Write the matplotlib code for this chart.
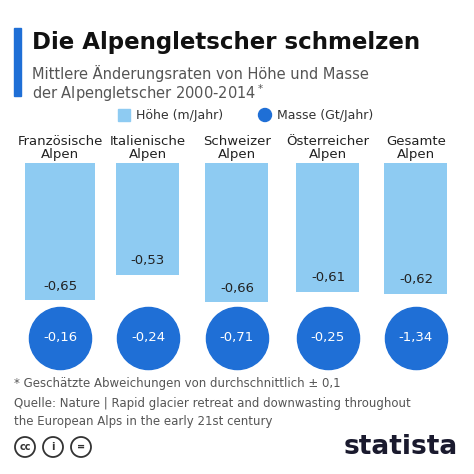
import matplotlib.pyplot as plt
from matplotlib.patches import Rectangle, Circle

regions = ["Französische\nAlpen", "Italienische\nAlpen", "Schweizer\nAlpen", "Österreicher\nAlpen", "Gesamte\nAlpen"]
hoehe = [-0.65, -0.53, -0.66, -0.61, -0.62]
masse = [-0.16, -0.24, -0.71, -0.25, -1.34]

LIGHT = "#8ecbf2"
DARK = "#1f6fd6"
GRAY = "#555555"

fig = plt.figure(figsize=(4.74, 4.74), dpi=100)
W = H = 474.0

# overlay in pixel coordinates for texts
bg = fig.add_axes([0, 0, 1, 1])
bg.set_xlim(0, W)
bg.set_ylim(H, 0)
bg.axis("off")

bg.add_patch(Rectangle((14, 28), 7, 68, color=DARK))
bg.text(32, 42, "Die Alpengletscher schmelzen", fontsize=16.5, fontweight="bold", va="center", color="#111111")
bg.text(32, 73, "Mittlere Änderungsraten von Höhe und Masse", fontsize=10.5, va="center", color=GRAY)
bg.text(32, 93, "der Alpengletscher 2000-2014$^*$", fontsize=10.5, va="center", color=GRAY)

bg.add_patch(Rectangle((118, 109), 12, 12, color=LIGHT))
bg.text(136, 115, "Höhe (m/Jahr)", fontsize=9, va="center", color="#333333")
bg.add_patch(Circle((265, 115), 6.5, color=DARK))
bg.text(277, 115, "Masse (Gt/Jahr)", fontsize=9, va="center", color="#333333")

bg.text(14, 383, "* Geschätzte Abweichungen von durchschnittlich ± 0,1", fontsize=8.5, va="center", color=GRAY)
bg.text(14, 403, "Quelle: Nature | Rapid glacier retreat and downwasting throughout", fontsize=8.5, va="center", color=GRAY)
bg.text(14, 421, "the European Alps in the early 21st century", fontsize=8.5, va="center", color=GRAY)

for cx, lab in [(25, "cc"), (53, "i"), (81, "=")]:
    bg.add_patch(Circle((cx, 447), 10, fill=False, ec="#333333", lw=1.3))
    bg.text(cx, 447, lab, fontsize=7, ha="center", va="center", fontweight="bold", color="#333333")
bg.text(458, 447, "statista", fontsize=19, fontweight="bold", ha="right", va="center", color="#1a1a2e")

centers = [60, 148, 237, 328, 416]
widths = 63
scale = 211.0
top_px, bot_px = 163, 375

for cx, lab in zip(centers, regions):
    bg.text(cx, 148, lab, fontsize=9.5, ha="center", va="center", color="#222222", linespacing=0.95)

ax = fig.add_axes([0, 1 - bot_px / H, 1, (bot_px - top_px) / H])
ax.set_xlim(0, W)
ax.set_ylim(-(bot_px - top_px) / scale, 0)
ax.axis("off")
ax.bar(centers, hoehe, width=[70, 63, 63, 63, 63], color=LIGHT)
for cx, v in zip(centers, hoehe):
    ax.text(cx, v + 14 / scale, f"{v:.2f}".replace(".", ","), ha="center", va="center", fontsize=9.5, color="#222222")

cy = -(338 - top_px) / scale
ax.scatter(centers, [cy] * len(centers), s=2000, color=DARK, zorder=3)
for cx, m in zip(centers, masse):
    ax.text(cx, cy, f"{m:.2f}".replace(".", ","), ha="center", va="center", fontsize=9.5, color="white", zorder=4)

fig.savefig("out.png", dpi=100)
